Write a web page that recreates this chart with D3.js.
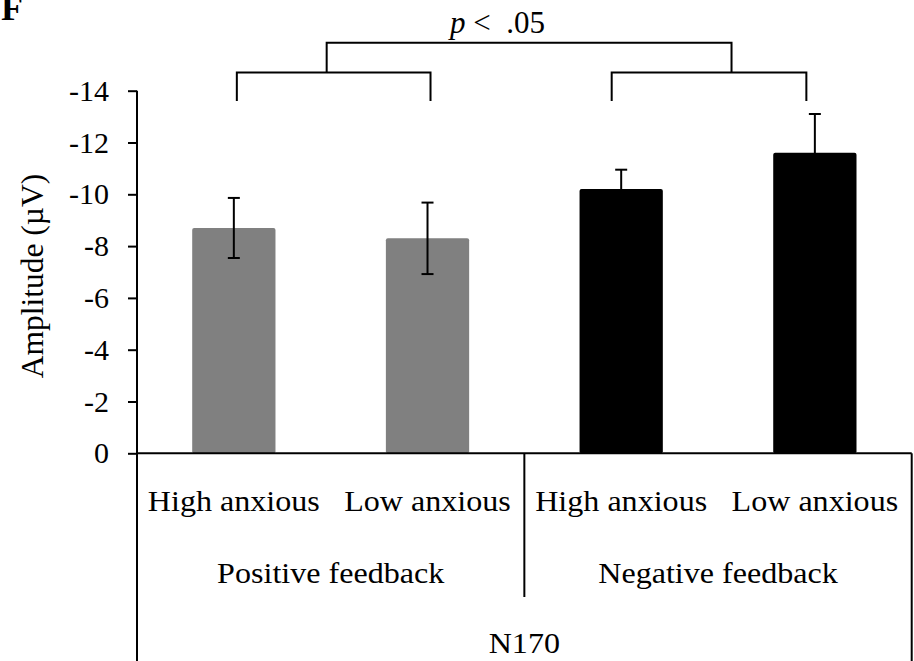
<!DOCTYPE html>
<meta charset="utf-8">
<style>
  body { margin: 0; background: #fff; }
  text { font-family: "Liberation Serif", "Times New Roman", serif; fill: #000; }
</style>

<!-- Load d3.js -->
<script src="https://d3js.org/d3.v7.min.js"></script>

<!-- Create a div where the graph will take place -->
<div id="my_dataviz"></div>

<script>
// data
var conditions = ["Positive feedback", "Positive feedback", "Negative feedback", "Negative feedback"];
var anxiety = ["High anxious", "Low anxious", "High anxious", "Low anxious"];
var groups = ["Positive feedback", "Negative feedback"];
var component = "N170";
var means = [-8.7, -8.3, -10.2, -11.6];
var errors = [1.16, 1.38, 0.75, 1.5];
var barColors = ["#808080", "#808080", "#000000", "#000000"];
var yTicks = [0, -2, -4, -6, -8, -10, -12, -14];

var width = 914, height = 661;
var left = 137, right = 911.7, zeroY = 453.3, topY = 90.7;
// the source figure's lettering is a little wider than the font
var stretch = "scale(1.07,1)";

var svg = d3.select("#my_dataviz")
  .append("svg")
    .attr("width", width)
    .attr("height", height);

var keys = means.map(function(d, i) { return i; });

// X scale: one band per bar
var x = d3.scaleBand()
  .domain(keys)
  .range([left, right])
  .paddingInner(0.57)
  .paddingOuter(0.285);

// Y scale: negative values plotted upward
var y = d3.scaleLinear()
  .domain([0, -14])
  .range([zeroY, topY]);

// Y axis (plain hyphen for the minus sign, like the original)
var yAxis = svg.append("g")
  .attr("transform", "translate(" + left + ",0)")
  .call(d3.axisLeft(y).tickValues(yTicks).tickSize(9).tickPadding(19).tickSizeOuter(0)
    .tickFormat(function(d) { return d < 0 ? "-" + Math.abs(d) : "" + d; }));
yAxis.select(".domain").remove();
yAxis.selectAll(".tick line").attr("stroke", "#000").attr("stroke-width", 2);
yAxis.selectAll(".tick text")
  .style("font-family", '"Liberation Serif", "Times New Roman", serif')
  .style("font-size", "30px")
  .attr("fill", "#000");

// axis line runs down through the category labels
svg.append("line")
  .attr("x1", left).attr("x2", left)
  .attr("y1", topY).attr("y2", height)
  .attr("stroke", "#000").attr("stroke-width", 2);

// Bars
svg.append("g")
  .selectAll("rect")
  .data(keys)
  .enter()
  .append("rect")
    .attr("x", function(i) { return x(i); })
    .attr("y", function(i) { return y(means[i]); })
    .attr("width", x.bandwidth())
    .attr("height", function(i) { return y(0) - y(means[i]); })
    .attr("rx", 2)
    .attr("fill", function(i) { return barColors[i]; });

// Error bars
var eb = svg.append("g").attr("stroke", "#000").attr("stroke-width", 2);
keys.forEach(function(i) {
  var cx = x(i) + x.bandwidth() / 2;
  var hi = y(means[i] - errors[i]), lo = y(means[i] + errors[i]);
  eb.append("line").attr("x1", cx).attr("x2", cx).attr("y1", hi).attr("y2", lo);
  eb.append("line").attr("x1", cx - 6).attr("x2", cx + 6).attr("y1", hi).attr("y2", hi);
  eb.append("line").attr("x1", cx - 6).attr("x2", cx + 6).attr("y1", lo).attr("y2", lo);
});

// zero line and category frame
svg.append("line")
  .attr("x1", left).attr("x2", right)
  .attr("y1", y(0)).attr("y2", y(0))
  .attr("stroke", "#000").attr("stroke-width", 2);
svg.append("line")
  .attr("x1", right).attr("x2", right)
  .attr("y1", y(0)).attr("y2", height)
  .attr("stroke", "#000").attr("stroke-width", 2);
var mid = (x(1) + x.bandwidth() + x(2)) / 2;
svg.append("line")
  .attr("x1", mid).attr("x2", mid)
  .attr("y1", y(0)).attr("y2", 597)
  .attr("stroke", "#000").attr("stroke-width", 2);

// category labels, three levels
svg.append("g")
  .selectAll("text")
  .data(keys)
  .enter()
  .append("text")
    .attr("transform", function(i) { return "translate(" + (x(i) + x.bandwidth() / 2) + ",511) " + stretch; })
    .attr("text-anchor", "middle")
    .style("font-size", "30px")
    .text(function(i) { return anxiety[i]; });

svg.append("g")
  .selectAll("text")
  .data(groups)
  .enter()
  .append("text")
    .attr("transform", function(g) {
      var idx = keys.filter(function(i) { return conditions[i] === g; });
      var cx = (x(idx[0]) + x(idx[idx.length - 1]) + x.bandwidth()) / 2;
      return "translate(" + cx + ",583) " + stretch;
    })
    .attr("text-anchor", "middle")
    .style("font-size", "30px")
    .text(function(g) { return g; });

svg.append("text")
  .attr("transform", "translate(" + (left + right) / 2 + ",653) " + stretch)
  .attr("text-anchor", "middle")
  .style("font-size", "30px")
  .text(component);

// Y axis label
svg.append("text")
  .attr("text-anchor", "middle")
  .attr("transform", "translate(43," + (y(-7) + 4) + ") rotate(-90)")
  .style("font-size", "31.5px")
  .text("Amplitude (\u00b5V)");

// panel letter
svg.append("text")
  .attr("x", 1)
  .attr("y", 20)
  .style("font-size", "36px")
  .style("font-weight", "bold")
  .text("F");

// significance brackets (in value units, nudged off the bar centres)
var pairs = [{a: 0, b: 1, dxa: 3, dxb: 3}, {a: 2, b: 3, dxa: -9.5, dxb: -8.5}];
var lowBase = -13.6, lowTop = -14.7, highTop = -15.85;
var br = svg.append("g").attr("stroke", "#000").attr("stroke-width", 2).attr("fill", "none");
var tops = [];
pairs.forEach(function(p, k) {
  var xa = x(p.a) + x.bandwidth() / 2 + p.dxa;
  var xb = x(p.b) + x.bandwidth() / 2 + p.dxb;
  br.append("path")
    .attr("d", "M" + xa + "," + y(lowBase) + "V" + y(lowTop) + "H" + xb + "V" + y(lowBase));
  tops.push(k === 0 ? (xa + xb) / 2 - 7 : (xa + xb) / 2 + 22.5);
});
br.append("path")
  .attr("d", "M" + tops[0] + "," + y(lowTop) + "V" + y(highTop) + "H" + tops[1] + "V" + y(lowTop));

var ptext = svg.append("text")
  .attr("x", 450)
  .attr("y", 33)
  .style("font-size", "31px")
  .style("white-space", "pre");
ptext.append("tspan").style("font-style", "italic").text("p");
ptext.append("tspan").text(" <  .05");
</script>
